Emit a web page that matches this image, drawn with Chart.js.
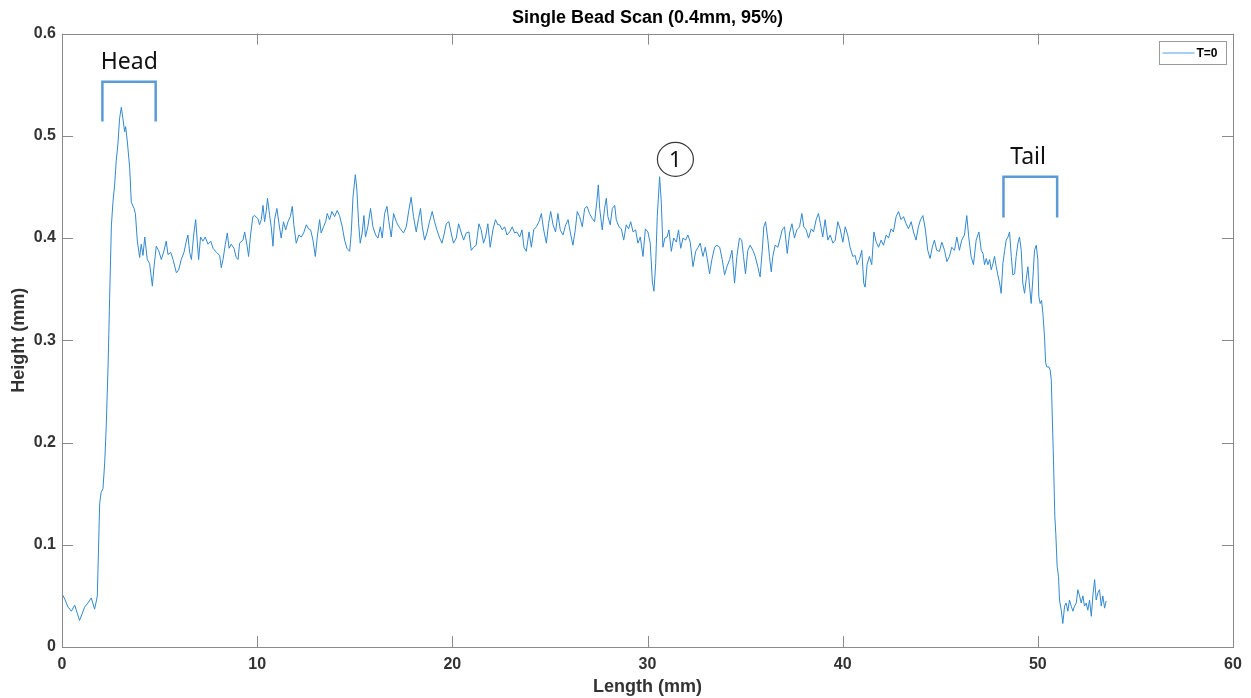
<!DOCTYPE html>
<html>
<head>
<meta charset="utf-8">
<title>Single Bead Scan</title>
<script src="https://cdn.jsdelivr.net/npm/chart.js@4"></script>
<style>
  html, body { margin: 0; padding: 0; background: #fff; }
  canvas { display: block; }
</style>
</head>
<body>
<canvas id="chartScan" width="1251" height="698"></canvas>
<script>
// data (mm)
const lengthMm = [
  0.00, 0.14, 0.31, 0.48, 0.65, 0.90, 1.16, 1.33, 1.50, 1.67, 1.76, 1.81, 1.93, 2.00, 2.10, 2.19, 2.27, 2.36, 2.44, 2.53,
  2.61, 2.70, 2.78, 2.87, 2.95, 3.04, 3.12, 3.21, 3.26, 3.35, 3.47, 3.55, 3.69, 3.76, 3.86, 3.98, 4.06, 4.15, 4.24, 4.37,
  4.49, 4.63, 4.71, 4.83, 4.95, 5.09, 5.23, 5.34, 5.43, 5.57, 5.69, 5.86, 5.98, 6.11, 6.25, 6.37, 6.45, 6.54, 6.63, 6.76,
  6.85, 6.93, 7.00, 7.10, 7.22, 7.34, 7.48, 7.62, 7.74, 7.91, 8.08, 8.16, 8.25, 8.37, 8.47, 8.56, 8.67, 8.81, 8.93, 9.02,
  9.10, 9.27, 9.36, 9.48, 9.56, 9.65, 9.78, 9.87, 10.04, 10.12, 10.21, 10.30, 10.38, 10.47, 10.53, 10.64, 10.72, 10.81, 10.89, 11.01,
  11.12, 11.23, 11.35, 11.46, 11.58, 11.70, 11.80, 11.88, 12.00, 12.14, 12.26, 12.38, 12.52, 12.63, 12.74, 12.86, 12.98, 13.08, 13.20, 13.28,
  13.40, 13.51, 13.59, 13.71, 13.83, 13.97, 14.10, 14.22, 14.36, 14.48, 14.60, 14.74, 14.82, 14.91, 15.03, 15.11, 15.20, 15.28, 15.38, 15.47,
  15.55, 15.67, 15.81, 15.93, 16.07, 16.19, 16.31, 16.41, 16.53, 16.65, 16.75, 16.87, 16.99, 17.13, 17.26, 17.38, 17.50, 17.64, 17.77, 17.89,
  18.01, 18.15, 18.27, 18.37, 18.46, 18.58, 18.70, 18.83, 18.97, 19.09, 19.21, 19.35, 19.47, 19.57, 19.69, 19.82, 19.94, 20.06, 20.20, 20.32,
  20.46, 20.58, 20.71, 20.85, 20.97, 21.09, 21.22, 21.36, 21.48, 21.60, 21.70, 21.82, 21.94, 22.08, 22.21, 22.33, 22.42, 22.56, 22.68, 22.80,
  22.94, 23.07, 23.19, 23.31, 23.45, 23.57, 23.67, 23.79, 23.93, 24.05, 24.17, 24.30, 24.44, 24.56, 24.68, 24.82, 24.93, 25.04, 25.16, 25.29,
  25.41, 25.53, 25.67, 25.81, 25.93, 26.04, 26.18, 26.30, 26.40, 26.52, 26.66, 26.78, 26.90, 27.03, 27.17, 27.29, 27.41, 27.48, 27.55, 27.68,
  27.80, 27.89, 27.97, 28.09, 28.20, 28.32, 28.40, 28.54, 28.66, 28.78, 28.91, 29.03, 29.14, 29.26, 29.39, 29.51, 29.63, 29.77, 29.89, 30.02,
  30.14, 30.25, 30.33, 30.42, 30.50, 30.62, 30.71, 30.79, 30.89, 31.00, 31.10, 31.22, 31.34, 31.48, 31.59, 31.70, 31.82, 31.95, 32.07, 32.19,
  32.33, 32.47, 32.59, 32.70, 32.84, 32.96, 33.06, 33.18, 33.30, 33.44, 33.56, 33.70, 33.83, 33.95, 34.07, 34.21, 34.33, 34.46, 34.58, 34.71,
  34.83, 34.92, 35.02, 35.14, 35.26, 35.40, 35.52, 35.65, 35.77, 35.88, 35.96, 36.05, 36.17, 36.25, 36.34, 36.42, 36.54, 36.68, 36.80, 36.90,
  37.02, 37.16, 37.28, 37.40, 37.53, 37.65, 37.79, 37.91, 38.01, 38.13, 38.25, 38.39, 38.51, 38.64, 38.76, 38.86, 38.98, 39.10, 39.24, 39.36,
  39.50, 39.62, 39.75, 39.87, 40.01, 40.13, 40.26, 40.38, 40.52, 40.64, 40.74, 40.86, 40.98, 41.08, 41.15, 41.25, 41.37, 41.49, 41.60, 41.72,
  41.84, 41.97, 42.09, 42.23, 42.35, 42.48, 42.60, 42.74, 42.86, 42.99, 43.12, 43.25, 43.37, 43.51, 43.63, 43.76, 43.88, 43.99, 44.11, 44.24,
  44.36, 44.48, 44.59, 44.70, 44.82, 44.96, 45.08, 45.22, 45.34, 45.47, 45.59, 45.73, 45.85, 45.98, 46.10, 46.24, 46.36, 46.46, 46.58, 46.70,
  46.84, 46.98, 47.10, 47.19, 47.27, 47.36, 47.44, 47.53, 47.61, 47.70, 47.78, 47.87, 47.95, 48.04, 48.12, 48.21, 48.30, 48.38, 48.47, 48.55,
  48.64, 48.72, 48.81, 48.89, 48.98, 49.06, 49.15, 49.23, 49.32, 49.40, 49.49, 49.58, 49.66, 49.75, 49.83, 49.92, 50.00, 50.05, 50.12, 50.19,
  50.26, 50.34, 50.40, 50.46, 50.57, 50.63, 50.69, 50.74, 50.81, 50.87, 50.92, 50.99, 51.06, 51.11, 51.20, 51.28, 51.37, 51.45, 51.54, 51.62,
  51.71, 51.80, 51.88, 51.97, 52.05, 52.14, 52.22, 52.31, 52.39, 52.48, 52.56, 52.65, 52.74, 52.82, 52.91, 52.99, 53.08, 53.16, 53.25, 53.33,
  53.42, 53.50
];
const heightMm = [
  0.052, 0.047, 0.039, 0.035, 0.041, 0.026, 0.039, 0.043, 0.048, 0.037, 0.045, 0.050, 0.140, 0.151, 0.155, 0.181, 0.218, 0.274, 0.341, 0.412,
  0.435, 0.453, 0.476, 0.493, 0.517, 0.528, 0.517, 0.504, 0.509, 0.494, 0.468, 0.435, 0.429, 0.424, 0.397, 0.381, 0.394, 0.383, 0.401, 0.379,
  0.375, 0.353, 0.371, 0.392, 0.388, 0.379, 0.388, 0.397, 0.384, 0.386, 0.379, 0.366, 0.369, 0.379, 0.386, 0.397, 0.403, 0.386, 0.379, 0.405,
  0.418, 0.397, 0.379, 0.401, 0.397, 0.401, 0.394, 0.397, 0.390, 0.386, 0.383, 0.371, 0.379, 0.394, 0.405, 0.390, 0.394, 0.390, 0.381, 0.379,
  0.395, 0.398, 0.406, 0.393, 0.382, 0.401, 0.421, 0.422, 0.419, 0.413, 0.418, 0.432, 0.416, 0.427, 0.439, 0.422, 0.411, 0.392, 0.418, 0.429,
  0.414, 0.400, 0.416, 0.408, 0.416, 0.421, 0.431, 0.413, 0.395, 0.403, 0.401, 0.405, 0.413, 0.409, 0.408, 0.398, 0.382, 0.401, 0.418, 0.405,
  0.411, 0.416, 0.424, 0.418, 0.426, 0.421, 0.427, 0.422, 0.411, 0.398, 0.390, 0.387, 0.405, 0.440, 0.462, 0.447, 0.414, 0.395, 0.405, 0.422,
  0.401, 0.411, 0.429, 0.411, 0.403, 0.400, 0.411, 0.400, 0.424, 0.431, 0.416, 0.401, 0.424, 0.416, 0.411, 0.408, 0.405, 0.411, 0.427, 0.440,
  0.421, 0.406, 0.419, 0.429, 0.411, 0.398, 0.405, 0.416, 0.426, 0.416, 0.408, 0.400, 0.395, 0.403, 0.414, 0.416, 0.405, 0.395, 0.400, 0.414,
  0.405, 0.398, 0.405, 0.406, 0.388, 0.391, 0.393, 0.414, 0.408, 0.395, 0.401, 0.414, 0.391, 0.408, 0.418, 0.413, 0.413, 0.408, 0.411, 0.403,
  0.406, 0.411, 0.405, 0.406, 0.401, 0.408, 0.391, 0.387, 0.406, 0.391, 0.408, 0.411, 0.416, 0.424, 0.408, 0.395, 0.414, 0.426, 0.413, 0.406,
  0.424, 0.408, 0.403, 0.413, 0.418, 0.406, 0.393, 0.408, 0.426, 0.421, 0.411, 0.429, 0.431, 0.424, 0.419, 0.416, 0.437, 0.452, 0.429, 0.408,
  0.429, 0.439, 0.421, 0.413, 0.429, 0.432, 0.418, 0.411, 0.409, 0.398, 0.413, 0.409, 0.416, 0.406, 0.408, 0.395, 0.401, 0.382, 0.409, 0.406,
  0.395, 0.357, 0.348, 0.375, 0.421, 0.460, 0.434, 0.391, 0.400, 0.401, 0.408, 0.387, 0.400, 0.396, 0.408, 0.390, 0.400, 0.398, 0.403, 0.396,
  0.372, 0.387, 0.391, 0.395, 0.382, 0.391, 0.380, 0.365, 0.379, 0.391, 0.393, 0.391, 0.379, 0.364, 0.372, 0.379, 0.388, 0.356, 0.382, 0.400,
  0.398, 0.382, 0.365, 0.388, 0.393, 0.388, 0.382, 0.372, 0.362, 0.388, 0.411, 0.416, 0.398, 0.382, 0.367, 0.382, 0.393, 0.391, 0.400, 0.408,
  0.411, 0.385, 0.405, 0.414, 0.400, 0.408, 0.411, 0.424, 0.411, 0.408, 0.400, 0.409, 0.406, 0.418, 0.424, 0.414, 0.401, 0.418, 0.398, 0.403,
  0.395, 0.398, 0.416, 0.409, 0.396, 0.411, 0.403, 0.391, 0.382, 0.383, 0.374, 0.379, 0.388, 0.356, 0.352, 0.374, 0.382, 0.374, 0.406, 0.396,
  0.391, 0.398, 0.393, 0.403, 0.400, 0.409, 0.406, 0.421, 0.426, 0.418, 0.421, 0.414, 0.409, 0.416, 0.406, 0.398, 0.411, 0.418, 0.422, 0.408,
  0.388, 0.380, 0.391, 0.398, 0.388, 0.387, 0.396, 0.388, 0.377, 0.382, 0.391, 0.388, 0.401, 0.388, 0.398, 0.403, 0.422, 0.401, 0.382, 0.374,
  0.398, 0.406, 0.388, 0.385, 0.374, 0.380, 0.374, 0.379, 0.369, 0.375, 0.382, 0.372, 0.364, 0.356, 0.346, 0.375, 0.388, 0.398, 0.401, 0.406,
  0.382, 0.364, 0.365, 0.382, 0.395, 0.401, 0.388, 0.356, 0.346, 0.359, 0.372, 0.352, 0.336, 0.362, 0.388, 0.393, 0.379, 0.343, 0.336, 0.339,
  0.326, 0.304, 0.278, 0.274, 0.274, 0.271, 0.261, 0.225, 0.177, 0.128, 0.111, 0.079, 0.069, 0.046, 0.036, 0.023, 0.040, 0.043, 0.035, 0.046,
  0.040, 0.035, 0.040, 0.043, 0.056, 0.050, 0.043, 0.050, 0.040, 0.043, 0.036, 0.046, 0.030, 0.050, 0.066, 0.046, 0.053, 0.056, 0.040, 0.050,
  0.038, 0.045
];
const xTicks = [0, 10, 20, 30, 40, 50, 60];
const yTicks = [0, 0.1, 0.2, 0.3, 0.4, 0.5, 0.6];
const seriesName = 'T=0';

const lineColor = '#3389cf';
const axisColor = '#8a8a8a';
const textColor = '#333333';
const fontFamily = '"Liberation Sans", Arial, sans-serif';
const noteFont = '"Noto Sans", "Open Sans", sans-serif';
const bracketColor = '#5b9bd5';

// matlab style box, inward ticks and the legend box
const matlabAxes = {
    id: 'matlabAxes',
    afterDraw(chart) {
        const { ctx, chartArea: a, scales: { x, y } } = chart;
        const tl = 11;
        ctx.save();
        ctx.strokeStyle = axisColor;
        ctx.lineWidth = 1;
        ctx.strokeRect(Math.round(a.left) + 0.5, Math.round(a.top) + 0.5, Math.round(a.width), Math.round(a.height));
        ctx.beginPath();
        xTicks.forEach(v => {
            const px = Math.round(x.getPixelForValue(v)) + 0.5;
            ctx.moveTo(px, a.bottom); ctx.lineTo(px, a.bottom - tl);
            ctx.moveTo(px, a.top); ctx.lineTo(px, a.top + tl);
        });
        yTicks.forEach(v => {
            const py = Math.round(y.getPixelForValue(v)) + 0.5;
            ctx.moveTo(a.left, py); ctx.lineTo(a.left + tl, py);
            ctx.moveTo(a.right, py); ctx.lineTo(a.right - tl, py);
        });
        ctx.stroke();

        // legend
        const lx = Math.round(a.right) - 73.5, ly = Math.round(a.top) + 7.5;
        ctx.fillStyle = '#fff';
        ctx.fillRect(lx, ly, 67, 23);
        ctx.strokeStyle = '#9a9a9a';
        ctx.strokeRect(lx, ly, 67, 23);
        ctx.strokeStyle = '#8cc0e8';
        ctx.lineWidth = 1.5;
        ctx.beginPath();
        ctx.moveTo(lx + 3, ly + 11.5); ctx.lineTo(lx + 35, ly + 11.5);
        ctx.stroke();
        ctx.fillStyle = '#000';
        ctx.font = 'bold 12px ' + fontFamily;
        ctx.textAlign = 'left';
        ctx.textBaseline = 'middle';
        ctx.fillText(seriesName, lx + 37, ly + 12);
        ctx.restore();
    }
};

// Head / Tail brackets and the circled 1
const notes = {
    id: 'notes',
    afterDraw(chart) {
        const { ctx, scales: { x, y } } = chart;
        const bracket = (x0, x1, yTop, yBot) => {
            const l = x.getPixelForValue(x0), r = x.getPixelForValue(x1);
            const t = y.getPixelForValue(yTop), b = y.getPixelForValue(yBot);
            ctx.beginPath();
            ctx.moveTo(l, b); ctx.lineTo(l, t); ctx.lineTo(r, t); ctx.lineTo(r, b);
            ctx.stroke();
        };
        ctx.save();
        ctx.strokeStyle = bracketColor;
        ctx.lineWidth = 2.5;
        ctx.lineJoin = 'miter';
        bracket(2.07, 4.80, 0.553, 0.514);
        bracket(48.24, 50.99, 0.460, 0.420);

        ctx.fillStyle = '#111';
        ctx.font = '23px ' + noteFont;
        ctx.textAlign = 'center';
        ctx.textBaseline = 'middle';
        ctx.fillText('Head', x.getPixelForValue(3.45), y.getPixelForValue(0.572));
        ctx.fillText('Tail', x.getPixelForValue(49.50), y.getPixelForValue(0.479));

        const cx = x.getPixelForValue(31.43), cy = y.getPixelForValue(0.477);
        ctx.strokeStyle = '#3a3a3a';
        ctx.lineWidth = 1.2;
        ctx.beginPath();
        ctx.ellipse(cx, cy, 18, 17, 0, 0, Math.PI * 2);
        ctx.stroke();
        ctx.font = '22px ' + noteFont;
        ctx.fillText('1', cx, cy + 1);
        ctx.restore();
    }
};

const points = lengthMm.map((v, i) => ({ x: v, y: heightMm[i] }));

const ctxScan = document.getElementById('chartScan').getContext('2d');
const chartScan = new Chart(ctxScan, {
    type: 'line',
    data: {
        datasets: [{
            label: seriesName,
            data: points,
            borderColor: lineColor,
            borderWidth: 1,
            pointRadius: 0,
            tension: 0,
            fill: false
        }]
    },
    options: {
        responsive: false,
        animation: false,
        layout: { padding: { left: 0, right: 18, top: 0, bottom: 0 } },
        plugins: {
            legend: { display: false },
            tooltip: { enabled: false },
            title: {
                display: true,
                fullSize: false,
                text: 'Single Bead Scan (0.4mm, 95%)',
                color: '#000',
                font: { family: fontFamily, size: 18, weight: 'bold' },
                padding: { top: 7, bottom: 5 }
            }
        },
        scales: {
            x: {
                type: 'linear',
                min: 0,
                max: 60,
                afterBuildTicks: s => { s.ticks = xTicks.map(v => ({ value: v })); },
                ticks: {
                    color: textColor,
                    padding: 8,
                    maxRotation: 0,
                    font: { family: fontFamily, size: 16, weight: 'bold' }
                },
                grid: { display: false, drawTicks: false },
                border: { display: false },
                title: {
                    display: true,
                    text: 'Length (mm)',
                    color: textColor,
                    font: { family: fontFamily, size: 18, weight: 'bold' },
                    padding: { top: 0, bottom: 0 }
                },
                afterFit: s => { s.height = 51; }
            },
            y: {
                min: 0,
                max: 0.6,
                afterBuildTicks: s => { s.ticks = yTicks.map(v => ({ value: v })); },
                ticks: {
                    color: textColor,
                    padding: 6,
                    callback: v => String(+v.toFixed(1)),
                    font: { family: fontFamily, size: 16, weight: 'bold' }
                },
                grid: { display: false, drawTicks: false },
                border: { display: false },
                title: {
                    display: true,
                    text: 'Height (mm)',
                    color: textColor,
                    font: { family: fontFamily, size: 18, weight: 'bold' },
                    padding: { top: 8, bottom: 0 }
                },
                afterFit: s => { s.width = 62; }
            }
        }
    },
    plugins: [matlabAxes, notes]
});
</script>
</body>
</html>
